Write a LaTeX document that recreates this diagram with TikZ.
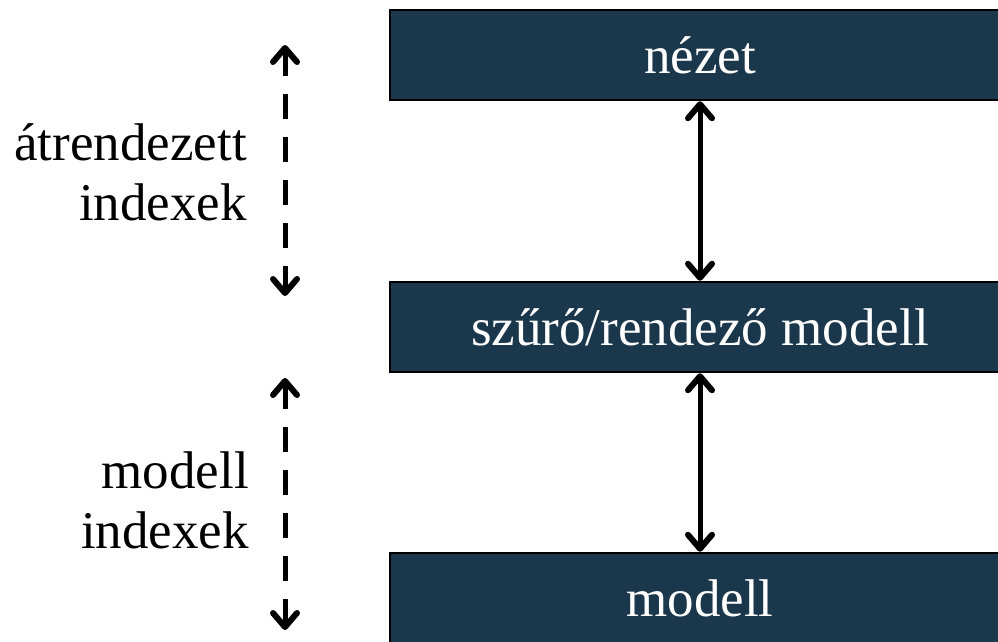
\documentclass[tikz,border=0pt]{standalone}
\usepackage{fontspec}
\setmainfont{Liberation Serif}
\usetikzlibrary{arrows.meta}
\definecolor{boxnavy}{HTML}{1A374B}
\begin{document}
\begin{tikzpicture}[x=1pt,y=-1pt,
  layerbox/.style={draw=black, line width=2.5pt, fill=boxnavy, text=white,
    minimum width=620pt, minimum height=90pt, inner sep=0pt,
    font=\fontsize{53}{60}\selectfont},
  sidelabel/.style={align=right, anchor=east, inner sep=0pt,
    font=\fontsize{53}{60}\selectfont},
  biarrow/.style={line width=5pt, {Straight Barb[round,length=14pt,width=24pt,line width=6pt]}-{Straight Barb[round,length=14pt,width=24pt,line width=6pt]}},
  dasharrow/.style={biarrow, dash pattern=on 25pt off 18pt}]
\useasboundingbox (0,0) rectangle (998,642);
\node[layerbox] (view) at (700,55) {nézet};
\node[layerbox] (proxy) at (700,327) {szűrő/rendező modell};
\node[layerbox] (model) at (700,598) {modell};
\draw[biarrow] (view.south) -- (proxy.north);
\draw[biarrow] (proxy.south) -- (model.north);
\coordinate (d1a) at (285,45);
\coordinate (d1b) at (285,296);
\coordinate (d2a) at (285,378);
\coordinate (d2b) at (285,630);
\draw[dasharrow] (d1a) -- (d1b);
\draw[dasharrow] (d2a) -- (d2b);
\node[sidelabel] (lab1) at (247,172) {átrendezett\\indexek};
\node[sidelabel] (lab2) at (249,500) {modell\\indexek};
\end{tikzpicture}
\end{document}
